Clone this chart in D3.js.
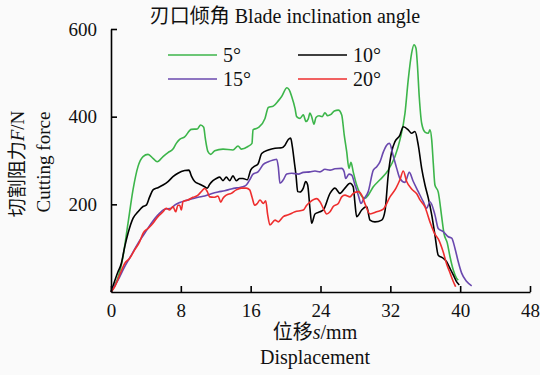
<!DOCTYPE html>
<html>
<head>
<meta charset="utf-8">
<script src="https://cdn.jsdelivr.net/npm/d3@7"></script>
<style>
  body { margin: 0; background: #fafafa; }
  svg { display: block; }
  svg text { font-family: "Times New Roman", Times, "Liberation Serif", serif; fill: #111; }
  .cjk { font-family: "Noto Sans CJK SC", sans-serif; }
</style>
</head>
<body>
<svg id="chart" width="540" height="375"></svg>
<script>
// cutting force (N) vs displacement (mm) for each blade inclination angle
const angle5 = [[0,0],[1.37,80],[1.95,157],[2.52,233],[3.09,286],[3.67,309],[4.24,314],[4.81,305],[5.3,297],[5.96,309],[6.53,318],[7.1,326],[7.48,339],[7.87,348],[8.44,354],[9.2,371],[9.89,372],[10.27,381],[10.62,376],[10.8,351],[11.11,320],[11.42,314],[11.88,322],[12.83,326],[13.97,324],[14.55,333],[14.93,326],[15.69,332],[16.15,339],[16.27,370],[16.64,373],[16.95,376],[17.64,396],[18.02,421],[18.59,424],[19.16,436],[19.55,446],[20.16,466],[20.42,461],[20.7,446],[21.08,419],[21.27,400],[21.65,396],[22.03,404],[22.34,389],[22.6,395],[22.79,408],[22.99,400],[23.25,383],[23.48,398],[23.83,402],[24.2,400],[24.51,409],[24.82,402],[25.2,405],[25.58,413],[26.04,415],[26.43,404],[26.72,358],[27.0,320],[27.26,282],[27.49,296],[27.75,274],[28.14,244],[28.52,225],[29.1,214],[29.47,221],[30.05,240],[30.81,256],[31.76,278],[32.53,309],[33.1,347],[33.68,408],[34.05,484],[34.44,545],[34.71,564],[34.94,556],[35.09,522],[35.31,446],[35.59,385],[35.97,365],[36.35,362],[36.54,370],[36.74,347],[36.92,294],[37.11,244],[37.49,228],[37.88,172],[38.14,134],[38.52,112],[38.83,81],[39.21,50],[39.6,31],[39.78,27]];

const angle10 = [[0,0],[0.8,46],[1.18,65],[1.57,103],[1.95,134],[2.52,168],[3.09,183],[3.67,195],[4.04,198],[4.43,217],[4.81,233],[5.38,238],[5.96,244],[6.53,252],[7.1,263],[7.67,271],[8.44,277],[8.93,278],[9.2,265],[9.59,252],[10.16,246],[10.73,240],[11.03,237],[11.31,246],[11.68,254],[12.06,259],[12.45,262],[12.83,254],[13.21,262],[13.6,254],[13.97,265],[14.35,254],[14.74,259],[15.12,259],[15.61,256],[16.0,278],[16.46,287],[16.84,292],[17.26,316],[18.02,324],[18.79,328],[19.55,329],[19.93,335],[20.31,348],[20.58,351],[20.77,332],[21.0,297],[21.19,267],[21.39,229],[21.65,228],[22.03,237],[22.3,252],[22.53,244],[22.79,191],[22.99,157],[23.37,178],[23.94,183],[24.32,187],[25.09,225],[25.66,237],[26.23,225],[26.8,237],[27.38,248],[27.75,240],[27.95,202],[28.14,172],[28.72,187],[29.29,195],[29.67,164],[30.24,160],[31.01,164],[31.39,185],[31.76,267],[32.15,320],[32.53,343],[33.1,358],[33.48,377],[34.05,370],[34.44,362],[34.82,366],[35.2,335],[35.59,282],[35.97,244],[36.35,214],[36.74,176],[37.11,130],[37.49,84],[38.06,77],[38.45,69],[38.83,54],[39.21,39],[39.6,23],[39.9,16]];

const angle15 = [[0,0],[0.8,27],[1.57,58],[2.33,84],[3.09,111],[3.86,134],[4.62,157],[5.38,176],[6.15,189],[6.91,191],[7.3,198],[7.87,204],[8.44,208],[9.2,212],[9.97,216],[10.73,219],[11.49,224],[12.26,228],[13.02,231],[13.78,235],[14.55,238],[15.12,240],[15.5,244],[15.89,256],[16.27,269],[16.84,274],[17.45,291],[18.02,297],[18.59,301],[18.98,303],[19.16,286],[19.36,248],[19.74,256],[20.13,269],[20.7,271],[21.46,269],[22.03,273],[22.79,274],[23.37,276],[23.94,274],[24.51,280],[25.09,278],[25.66,281],[26.43,282],[26.72,274],[26.88,259],[27.26,269],[27.57,267],[27.95,244],[28.33,221],[28.64,202],[28.9,210],[29.47,229],[30.05,278],[30.44,286],[30.81,297],[31.19,319],[31.58,335],[31.9,339],[32.34,310],[32.73,282],[33.1,259],[33.68,250],[34.17,273],[34.63,252],[35.2,229],[35.77,206],[36.16,191],[36.54,206],[37.11,176],[37.49,145],[38.06,138],[38.64,126],[39.03,123],[39.4,100],[39.78,69],[40.17,43],[40.75,24],[41.32,14]];

const angle20 = [[0,0],[0.42,12],[1.0,39],[1.57,65],[2.14,77],[2.71,96],[3.29,115],[3.67,134],[4.24,145],[4.81,157],[5.38,172],[5.96,183],[6.33,191],[6.72,187],[7.1,195],[7.41,183],[7.67,198],[7.87,198],[8.05,187],[8.25,206],[8.82,210],[9.39,216],[9.97,221],[10.34,229],[10.73,236],[11.03,229],[11.31,217],[11.8,216],[12.26,219],[12.57,205],[12.83,214],[13.21,221],[13.78,225],[14.35,233],[14.93,237],[15.5,237],[15.89,233],[16.15,217],[16.46,198],[16.76,202],[17.07,210],[17.45,202],[17.72,208],[17.95,176],[18.21,153],[18.79,164],[19.16,160],[19.74,172],[20.31,176],[21.08,183],[22.03,187],[22.42,198],[22.79,205],[23.56,213],[23.94,206],[24.32,191],[24.71,178],[25.09,183],[25.46,195],[26.04,202],[26.43,217],[26.8,221],[27.38,217],[27.75,225],[28.33,229],[28.72,221],[29.1,201],[29.67,178],[30.44,183],[31.19,189],[31.96,217],[32.65,237],[33.1,256],[33.48,276],[33.87,252],[34.44,235],[35.02,224],[35.4,210],[35.97,194],[36.54,160],[37.11,132],[37.49,121],[38.06,91],[38.45,64],[38.83,44],[39.21,24],[39.48,12]];

const seriesNames = ["5°", "10°", "15°", "20°"];
const seriesColors = ["#3cb54a", "#000000", "#6a48ae", "#ee2e2e"];
const seriesData = [angle5, angle10, angle15, angle20];
const xTicks = [0, 8, 16, 24, 32, 40, 48];
const yTicks = [200, 400, 600];

const svg = d3.select("#chart");

const x = d3.scaleLinear().domain([0, 48]).range([111, 530]);
const y = d3.scaleLinear().domain([0, 600]).range([292, 29]);

// les courbes
const line = d3.line()
    .x(d => x(d[0]))
    .y(d => y(d[1]))
    .curve(d3.curveMonotoneX);

svg.append("g")
    .selectAll("path")
    .data(seriesData)
    .join("path")
    .attr("d", line)
    .attr("fill", "none")
    .attr("stroke", (d, i) => seriesColors[i])
    .attr("stroke-width", 1.6)
    .attr("stroke-linejoin", "round");

// axes, ticks vers l'intérieur
const xAxis = svg.append("g")
    .attr("transform", `translate(0,${y(0)})`)
    .call(d3.axisBottom(x).tickValues(xTicks).tickSizeInner(-6).tickSizeOuter(0).tickPadding(12));

const yAxis = svg.append("g")
    .attr("transform", `translate(${x(0)},0)`)
    .call(d3.axisLeft(y).tickValues(yTicks).tickSizeInner(-6).tickSizeOuter(0).tickPadding(14));

[xAxis, yAxis].forEach(a => {
    a.attr("font-family", null);
    a.select(".domain").attr("stroke", "#000").attr("stroke-width", 1.6);
    a.selectAll(".tick line").attr("stroke", "#000").attr("stroke-width", 1.6);
    a.selectAll(".tick text")
        .attr("font-size", 19)
        .attr("fill", "#111");
});

// titre
const titre = svg.append("text")
    .attr("x", 285)
    .attr("y", 23)
    .attr("text-anchor", "middle")
    .attr("font-size", 20);
titre.append("tspan").attr("class", "cjk").text("刃口倾角");
titre.append("tspan").text(" Blade inclination angle");

// légende
const legendPos = [[168, 55], [298, 55], [168, 79], [298, 79]];
const legend = svg.append("g")
    .selectAll("g")
    .data(seriesNames)
    .join("g")
    .attr("transform", (d, i) => `translate(${legendPos[i][0]},${legendPos[i][1]})`);

legend.append("line")
    .attr("x1", 0).attr("x2", 49)
    .attr("stroke", (d, i) => seriesColors[i])
    .attr("stroke-width", 1.4);

legend.append("text")
    .attr("x", 55)
    .attr("y", 7)
    .attr("font-size", 20)
    .text(d => d);

// titres des axes
const xTitre = svg.append("text")
    .attr("x", 315)
    .attr("y", 339)
    .attr("text-anchor", "middle")
    .attr("font-size", 20);
xTitre.append("tspan").attr("class", "cjk").text("位移");
xTitre.append("tspan").attr("font-style", "italic").text("s");
xTitre.append("tspan").text("/mm");

svg.append("text")
    .attr("x", 315)
    .attr("y", 364)
    .attr("text-anchor", "middle")
    .attr("font-size", 20)
    .text("Displacement");

const yTitre = svg.append("text")
    .attr("transform", "translate(24,164) rotate(-90)")
    .attr("text-anchor", "middle")
    .attr("font-size", 19);
yTitre.append("tspan").attr("class", "cjk").text("切割阻力");
yTitre.append("tspan").attr("font-style", "italic").text("F");
yTitre.append("tspan").text("/N");

svg.append("text")
    .attr("transform", "translate(50,162) rotate(-90)")
    .attr("text-anchor", "middle")
    .attr("font-size", 19)
    .text("Cutting force");
</script>
</body>
</html>
